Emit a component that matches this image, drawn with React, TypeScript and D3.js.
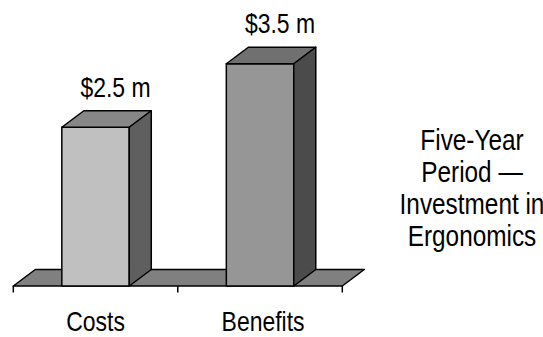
import React from "react";
import * as d3 from "d3";

// Five-year cost / benefit comparison, in millions of dollars
const categories = ["Costs", "Benefits"];
const values = [2.5, 3.5];
const valueLabels = ["$2.5 m", "$3.5 m"];
const sideNote = ["Five-Year", "Period \u2014", "Investment in", "Ergonomics"];

const W = 543;
const H = 337;
const FONT = "'Liberation Sans', Arial, sans-serif";
const FS = 28;
// Condensed lettering: regular sans squeezed horizontally
const SQUEEZE = 0.82;

// Oblique depth of the 3-D bars and floor
const DX = 22;
const DY = -16.5;

const faceColors = [
  { front: "#c0c0c0", top: "#878787", side: "#5f5f5f" },
  { front: "#969696", top: "#707070", side: "#4b4b4b" },
];

function Label({
  x,
  y,
  size = FS,
  squeeze = SQUEEZE,
  children,
}: {
  x: number;
  y: number;
  size?: number;
  squeeze?: number;
  children: React.ReactNode;
}) {
  return (
    <g transform={`translate(${x},${y}) scale(${squeeze},1)`}>
      <text x={0} y={0} textAnchor="middle" fontFamily={FONT} fontSize={size} fill="#000">
        {children}
      </text>
    </g>
  );
}

export default function App() {
  const x = d3.scaleBand<string>().domain(categories).range([13.3, 342.3]).padding(0);
  const y = d3.scaleLinear().domain([0, 4]).range([286, 32]);
  const barW = x.bandwidth() * 0.41;
  const base = y(0);
  const [x0, x1] = x.range();

  const pts = (p: [number, number][]) => p.map((q) => q.join(",")).join(" ");

  const floor = pts([
    [x0, base],
    [x1, base],
    [x1 + DX, base + DY],
    [x0 + DX, base + DY],
  ]);

  const tickXs = [...categories.map((c) => x(c) as number), x1];

  return (
    <svg width={W} height={H} style={{ position: "absolute", left: 0, top: 0, background: "#fff" }}>
      <polygon points={floor} fill="#808080" stroke="#000" strokeWidth={1.5} strokeLinejoin="round" />
      {tickXs.map((t, i) => (
        <line key={i} x1={t} x2={t} y1={base} y2={base + 6.5} stroke="#000" strokeWidth={1.5} />
      ))}
      {categories.map((c, i) => {
        const l = (x(c) as number) + (x.bandwidth() - barW) / 2;
        const r = l + barW;
        const t = y(values[i]);
        const col = faceColors[i];
        return (
          <g key={c}>
            <polygon
              points={pts([[l, base], [r, base], [r, t], [l, t]])}
              fill={col.front}
              stroke="#000"
              strokeWidth={1.5}
              strokeLinejoin="round"
            />
            <polygon
              points={pts([[l, t], [r, t], [r + DX, t + DY], [l + DX, t + DY]])}
              fill={col.top}
              stroke="#000"
              strokeWidth={1.5}
              strokeLinejoin="round"
            />
            <polygon
              points={pts([[r, base], [r + DX, base + DY], [r + DX, t + DY], [r, t]])}
              fill={col.side}
              stroke="#000"
              strokeWidth={1.5}
              strokeLinejoin="round"
            />
            <Label x={(l + r) / 2 + 20} y={t + DY - 14}>
              {valueLabels[i]}
            </Label>
            <Label x={(l + r) / 2 + (i === 1 ? 3 : 0)} y={331}>
              {c}
            </Label>
          </g>
        );
      })}
      {sideNote.map((s, i) => (
        <Label key={i} x={472} y={150 + i * 32} size={29} squeeze={0.84}>
          {s}
        </Label>
      ))}
    </svg>
  );
}
